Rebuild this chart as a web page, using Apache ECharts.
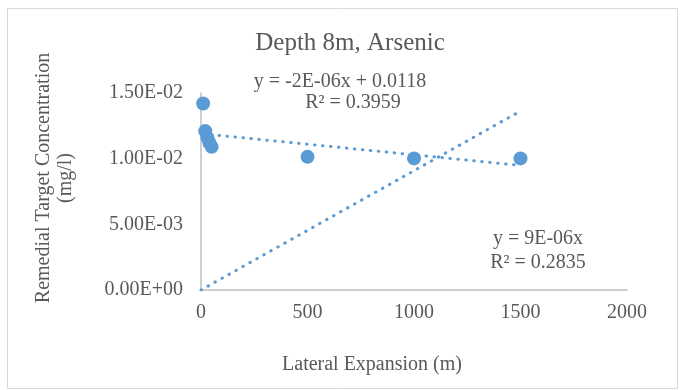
<!DOCTYPE html>
<html>
<head>
<meta charset="utf-8">
<script src="https://cdn.jsdelivr.net/npm/echarts@6/dist/echarts.min.js"></script>
<style>
html,body{margin:0;padding:0;background:#fff;}
#chart{width:680px;height:390px;}
</style>
</head>
<body>
<div id="chart"></div>
<script>
// Data
const lateralExpansion = [10, 20, 30, 40, 50, 500, 1000, 1500];
const concentration = [0.0142, 0.0121, 0.0116, 0.0112, 0.0109, 0.01014, 0.01002, 0.01002];
const xTicks = [0, 500, 1000, 1500, 2000];
const yTicks = [0, 0.005, 0.01, 0.015];
const titleText = 'Depth 8m, Arsenic';
const xTitle = 'Lateral Expansion (m)';
const yTitle = ['Remedial Target Concentration', '(mg/l)'];
const eqLinear = ['y = -2E-06x + 0.0118', 'R² = 0.3959'];
const eqOrigin = ['y = 9E-06x', 'R² = 0.2835'];

// Least-squares trend lines computed from the data
const n = lateralExpansion.length;
const mx = lateralExpansion.reduce((a, b) => a + b, 0) / n;
const my = concentration.reduce((a, b) => a + b, 0) / n;
let sxy = 0, sxx = 0, sxy0 = 0, sxx0 = 0;
for (let i = 0; i < n; i++) {
  sxy += (lateralExpansion[i] - mx) * (concentration[i] - my);
  sxx += (lateralExpansion[i] - mx) ** 2;
  sxy0 += lateralExpansion[i] * concentration[i];
  sxx0 += lateralExpansion[i] ** 2;
}
const slope = sxy / sxx, intercept = my - slope * mx;
const slope0 = sxy0 / sxx0;
const xMin = Math.min(...lateralExpansion), xMax = Math.max(...lateralExpansion);
const linearTrend = [[xMin, intercept + slope * xMin], [xMax, intercept + slope * xMax]];
const originTrend = [[0, 0], [xMax, slope0 * xMax]];

function sci(v) {
  const parts = v.toExponential(2).split('e');
  let e = parseInt(parts[1], 10);
  const sign = e < 0 ? '-' : '+';
  e = Math.abs(e);
  return parts[0] + 'E' + sign + (e < 10 ? '0' + e : '' + e);
}

const FONT = '"Liberation Serif", "Times New Roman", serif';
const TXT = '#595959';
const BLUE = '#5b9bd5';

const chart = echarts.init(document.getElementById('chart'), null, {renderer: 'canvas'});
const dotStyle = {color: BLUE, width: 3, type: [0.5, 7.5], cap: 'round'};

chart.setOption({
  animation: false,
  backgroundColor: '#fff',
  grid: {left: 201, right: 53, top: 93, bottom: 100, containLabel: false},
  xAxis: {
    type: 'value', min: xTicks[0], max: xTicks[xTicks.length - 1], interval: 500,
    axisLine: {show: true, lineStyle: {color: '#bfbfbf', width: 1.5}},
    axisTick: {show: false},
    splitLine: {show: false},
    axisLabel: {color: TXT, fontFamily: FONT, fontSize: 20, margin: 13, formatter: v => String(v)}
  },
  yAxis: {
    type: 'value', min: yTicks[0], max: yTicks[yTicks.length - 1], interval: 0.005,
    axisLine: {show: true, lineStyle: {color: '#bfbfbf', width: 1.5}},
    axisTick: {show: false},
    splitLine: {show: false},
    axisLabel: {color: TXT, fontFamily: FONT, fontSize: 20, margin: 18, formatter: v => sci(v)}
  },
  graphic: [
    {type: 'rect', shape: {x: 7.5, y: 8.5, width: 670, height: 380}, style: {fill: null, stroke: '#d9d9d9', lineWidth: 1}, silent: true},
    {type: 'text', x: 350, y: 43, style: {text: titleText, fill: TXT, font: '25px ' + FONT, textAlign: 'center', textVerticalAlign: 'middle'}},
    {type: 'text', x: 372, y: 365, style: {text: xTitle, fill: TXT, font: '20px ' + FONT, textAlign: 'center', textVerticalAlign: 'middle'}},
    {type: 'text', x: 44, y: 178, rotation: Math.PI / 2, style: {text: yTitle[0], fill: TXT, font: '20px ' + FONT, textAlign: 'center', textVerticalAlign: 'middle'}},
    {type: 'text', x: 66, y: 178, rotation: Math.PI / 2, style: {text: yTitle[1], fill: TXT, font: '20px ' + FONT, textAlign: 'center', textVerticalAlign: 'middle'}},
    {type: 'text', x: 340, y: 82, style: {text: eqLinear[0], fill: TXT, font: '20px ' + FONT, textAlign: 'center', textVerticalAlign: 'middle'}},
    {type: 'text', x: 353, y: 103, style: {text: eqLinear[1], fill: TXT, font: '20px ' + FONT, textAlign: 'center', textVerticalAlign: 'middle'}},
    {type: 'text', x: 538, y: 239, style: {text: eqOrigin[0], fill: TXT, font: '20px ' + FONT, textAlign: 'center', textVerticalAlign: 'middle'}},
    {type: 'text', x: 538, y: 263, style: {text: eqOrigin[1], fill: TXT, font: '20px ' + FONT, textAlign: 'center', textVerticalAlign: 'middle'}}
  ],
  series: [
    {type: 'line', data: linearTrend, symbol: 'none', lineStyle: dotStyle, z: 1, silent: true},
    {type: 'line', data: originTrend, symbol: 'none', lineStyle: dotStyle, z: 1, silent: true},
    {type: 'scatter', data: lateralExpansion.map((x, i) => [x, concentration[i]]), symbol: 'circle', symbolSize: 14,
     itemStyle: {color: BLUE, opacity: 1}, z: 3}
  ]
});
</script>
</body>
</html>
